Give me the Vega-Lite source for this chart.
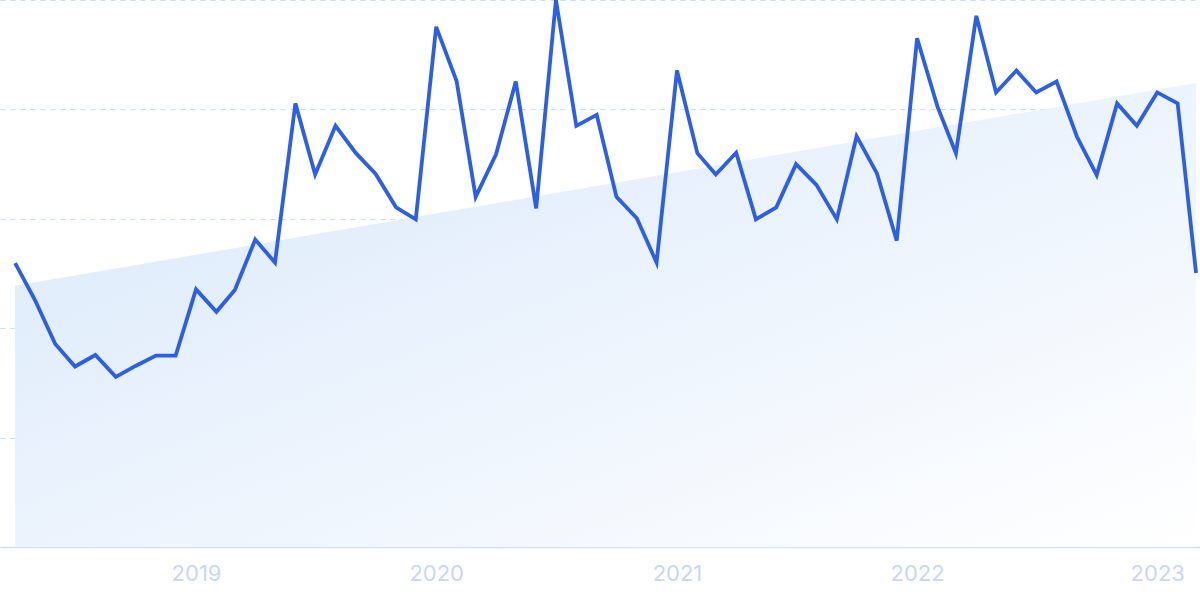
{
  "$schema": "https://vega.github.io/schema/vega-lite/v6.json",
  "width": 1200,
  "height": 547,
  "padding": {"left": 0, "top": 0, "right": 0, "bottom": 52},
  "autosize": {"type": "none"},
  "background": "#ffffff",
  "config": {"view": {"stroke": null}},
  "data": {"values": [
    {"date": "2018-04-01", "value": 51.9},
    {"date": "2018-05-01", "value": 45.2},
    {"date": "2018-06-01", "value": 37.1},
    {"date": "2018-07-01", "value": 33.0},
    {"date": "2018-08-01", "value": 35.1},
    {"date": "2018-09-01", "value": 31.1},
    {"date": "2018-10-01", "value": 33.1},
    {"date": "2018-11-01", "value": 35.0},
    {"date": "2018-12-01", "value": 35.0},
    {"date": "2019-01-01", "value": 47.1},
    {"date": "2019-02-01", "value": 43.0},
    {"date": "2019-03-01", "value": 47.0},
    {"date": "2019-04-01", "value": 56.2},
    {"date": "2019-05-01", "value": 52.0},
    {"date": "2019-06-01", "value": 81.1},
    {"date": "2019-07-01", "value": 68.1},
    {"date": "2019-08-01", "value": 77.0},
    {"date": "2019-09-01", "value": 72.0},
    {"date": "2019-10-01", "value": 68.2},
    {"date": "2019-11-01", "value": 62.1},
    {"date": "2019-12-01", "value": 59.9},
    {"date": "2020-01-01", "value": 95.1},
    {"date": "2020-02-01", "value": 85.2},
    {"date": "2020-03-01", "value": 64.0},
    {"date": "2020-04-01", "value": 71.8},
    {"date": "2020-05-01", "value": 85.1},
    {"date": "2020-06-01", "value": 61.9},
    {"date": "2020-07-01", "value": 100.0},
    {"date": "2020-08-01", "value": 77.0},
    {"date": "2020-09-01", "value": 79.0},
    {"date": "2020-10-01", "value": 64.0},
    {"date": "2020-11-01", "value": 60.1},
    {"date": "2020-12-01", "value": 52.0},
    {"date": "2021-01-01", "value": 87.1},
    {"date": "2021-02-01", "value": 72.0},
    {"date": "2021-03-01", "value": 68.1},
    {"date": "2021-04-01", "value": 72.1},
    {"date": "2021-05-01", "value": 59.9},
    {"date": "2021-06-01", "value": 62.1},
    {"date": "2021-07-01", "value": 70.0},
    {"date": "2021-08-01", "value": 66.2},
    {"date": "2021-09-01", "value": 59.9},
    {"date": "2021-10-01", "value": 75.1},
    {"date": "2021-11-01", "value": 68.3},
    {"date": "2021-12-01", "value": 56.0},
    {"date": "2022-01-01", "value": 93.0},
    {"date": "2022-02-01", "value": 80.5},
    {"date": "2022-03-01", "value": 72.0},
    {"date": "2022-04-01", "value": 97.1},
    {"date": "2022-05-01", "value": 83.1},
    {"date": "2022-06-01", "value": 87.1},
    {"date": "2022-07-01", "value": 83.1},
    {"date": "2022-08-01", "value": 85.1},
    {"date": "2022-09-01", "value": 75.0},
    {"date": "2022-10-01", "value": 68.0},
    {"date": "2022-11-01", "value": 81.1},
    {"date": "2022-12-01", "value": 77.0},
    {"date": "2023-01-01", "value": 83.1},
    {"date": "2023-02-01", "value": 81.1},
    {"date": "2023-03-01", "value": 50.1}
  ]},
  "encoding": {
    "x": {
      "field": "date",
      "type": "temporal",
      "scale": {
        "type": "utc",
        "domain": [
          {"year": 2018, "month": 3, "date": 9, "utc": true},
          {"year": 2023, "month": 3, "date": 7, "utc": true}
        ]
      },
      "axis": {
        "title": null,
        "format": "%Y",
        "tickCount": {"interval": "year", "step": 1},
        "ticks": false,
        "grid": false,
        "domain": true,
        "domainColor": "#cfe2fb",
        "domainWidth": 1.5,
        "labelFont": "Inter",
        "labelFontSize": 22,
        "labelColor": "#cad7f3",
        "labelPadding": 16,
        "labelBaseline": "top",
        "labelOverlap": false
      }
    },
    "y": {
      "field": "value",
      "type": "quantitative",
      "scale": {"domain": [0, 100], "nice": false, "zero": true},
      "axis": {
        "title": null,
        "labels": false,
        "ticks": false,
        "domain": false,
        "values": [0, 20, 40, 60, 80, 100],
        "grid": true,
        "gridColor": "#c8defa",
        "gridDash": [5, 5],
        "gridWidth": 1
      }
    }
  },
  "layer": [
    {
      "transform": [{"regression": "value", "on": "date", "method": "linear"}],
      "mark": {
        "type": "area",
        "fill": {
          "gradient": "linear",
          "x1": 0, "y1": 0, "x2": 1, "y2": 1,
          "stops": [
            {"offset": 0, "color": "#d9e8fb"},
            {"offset": 1, "color": "#ffffff"}
          ]
        }
      }
    },
    {
      "mark": {"type": "line", "color": "#2c5fe2", "strokeWidth": 3.8, "clip": false}
    }
  ]
}
